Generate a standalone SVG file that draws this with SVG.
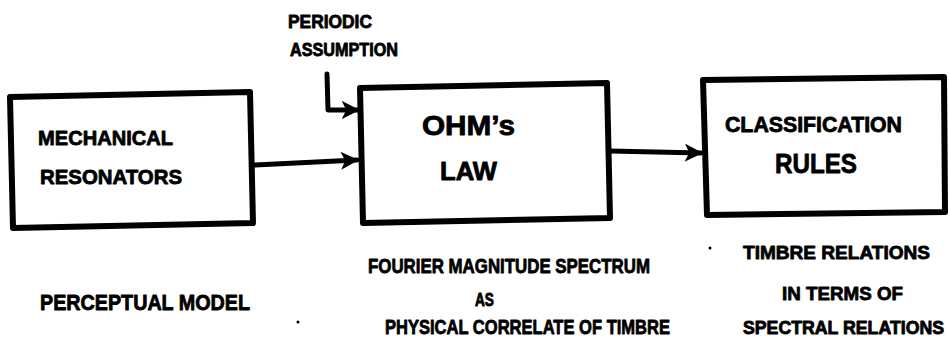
<svg xmlns="http://www.w3.org/2000/svg" width="949" height="341" viewBox="0 0 949 341">
<defs>
<style>
.box{fill:none;stroke:#000;stroke-width:6;stroke-linejoin:round;stroke-linecap:round}
.ln{fill:none;stroke:#000;stroke-width:5;stroke-linecap:round;stroke-linejoin:round}
text{font-family:"Liberation Sans",Arial,sans-serif;font-weight:bold;fill:#000;stroke:#000;stroke-width:0.8;stroke-linejoin:round}
.dot{fill:#000}
</style>
<marker id="ah" viewBox="0 0 10 10" refX="9" refY="5" markerWidth="3.6" markerHeight="3.6" orient="auto" markerUnits="strokeWidth">
<path d="M0,0 L10,5 L0,10 L2.5,5 Z" fill="#000"/>
</marker>
</defs>
<rect width="949" height="341" fill="#fff"/>
<g id="connectors">
<path class="ln" d="M255,165 L357,160" marker-end="url(#ah)"/>
<path class="ln" d="M610,151 L701,153" marker-end="url(#ah)"/>
<path class="ln" d="M327,74 L328,110 L358,110" marker-end="url(#ah)"/>
</g>
<g id="mechanical">
<path class="box" d="M10,97 L250,92 L253,223 L13,228 Z"/>
<text x="38" y="145" font-size="21" textLength="135" lengthAdjust="spacingAndGlyphs">MECHANICAL</text>
<text x="40" y="184" font-size="21" textLength="142" lengthAdjust="spacingAndGlyphs">RESONATORS</text>
</g>
<g id="ohm">
<path class="box" d="M360,88 L607,83 L610,218 L363,223 Z"/>
<text x="422" y="135" font-size="27" textLength="93" lengthAdjust="spacingAndGlyphs">OHM’s</text>
<text x="440" y="180" font-size="25" textLength="57" lengthAdjust="spacingAndGlyphs">LAW</text>
</g>
<g id="classification">
<path class="box" d="M703,80 L944,77 L945,212 L707,215 Z"/>
<text x="725" y="132" font-size="22" textLength="177" lengthAdjust="spacingAndGlyphs">CLASSIFICATION</text>
<text x="775" y="173" font-size="27" textLength="82" lengthAdjust="spacingAndGlyphs">RULES</text>
</g>
<g id="labels">
<text x="288" y="28" font-size="18" textLength="84" lengthAdjust="spacingAndGlyphs">PERIODIC</text>
<text x="290" y="56" font-size="18" textLength="108" lengthAdjust="spacingAndGlyphs">ASSUMPTION</text>
<text x="40" y="310" font-size="22" textLength="210" lengthAdjust="spacingAndGlyphs">PERCEPTUAL MODEL</text>
<text x="368" y="273" font-size="21" textLength="282" lengthAdjust="spacingAndGlyphs">FOURIER MAGNITUDE SPECTRUM</text>
<text x="475" y="306" font-size="18" textLength="19" lengthAdjust="spacingAndGlyphs">AS</text>
<text x="385" y="334" font-size="20" textLength="285" lengthAdjust="spacingAndGlyphs">PHYSICAL CORRELATE OF TIMBRE</text>
<text x="743" y="259" font-size="19" textLength="187" lengthAdjust="spacingAndGlyphs">TIMBRE RELATIONS</text>
<text x="782" y="300" font-size="19" textLength="121" lengthAdjust="spacingAndGlyphs">IN TERMS OF</text>
<text x="743" y="334" font-size="17.5" textLength="201" lengthAdjust="spacingAndGlyphs">SPECTRAL RELATIONS</text>
</g>
<circle class="dot" cx="298" cy="322" r="1.5"/>
<circle class="dot" cx="710" cy="248" r="1.5"/>
</svg>
